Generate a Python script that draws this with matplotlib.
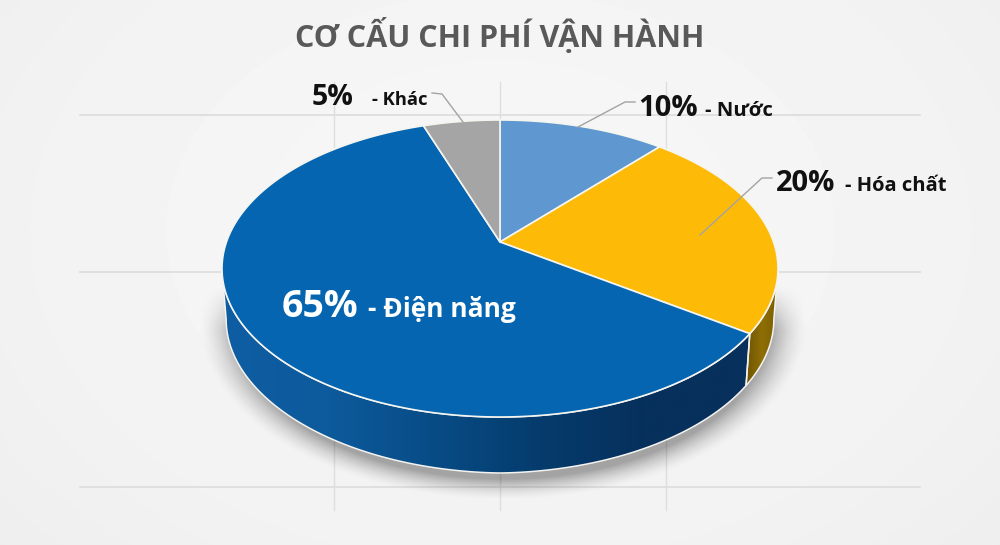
import numpy as np
import matplotlib
matplotlib.use("Agg")
import matplotlib.pyplot as plt
from matplotlib.patches import Polygon
from matplotlib.colors import LinearSegmentedColormap

# ---- data
title = "CƠ CẤU CHI PHÍ VẬN HÀNH"
categories = ["Nước", "Hóa chất", "Điện năng", "Khác"]
labelled_pct = [10, 20, 65, 5]
drawn_share = [11.5, 23.2, 60.0, 5.3]   # slice sizes as they appear in the picture
slice_colors = ["#5f98d0", "#fdbb08", "#0565b0", "#a5a5a5"]

# ---- geometry (pixels)
HUB = (500, 242)
UP, DOWN, WIDTH = 122.0, 175.0, 278.0
DEPTH = 56.0
c = (DOWN - UP) / (DOWN + UP)
A = UP * (1 + c)
D = WIDTH * np.sqrt(1 - c ** 2)


def rim(theta_deg, scale=1.0):
    t = np.radians(theta_deg)
    u, v = np.sin(t), np.cos(t)
    w = 1 + c * v
    return HUB[0] + scale * D * u / w, HUB[1] - scale * A * v / w


fig = plt.figure(figsize=(10, 5.45), dpi=100)
ax = fig.add_axes([0, 0, 1, 1])
ax.set_xlim(0, 1000)
ax.set_ylim(545, 0)
ax.axis("off")

# background
yy, xx = np.mgrid[0:545, 0:1000]
r = np.hypot((xx - 500) / 700, (yy - 230) / 500)
ax.imshow(0.965 - 0.035 * r ** 2, cmap="gray", vmin=0, vmax=1,
          extent=(0, 1000, 545, 0), zorder=0, aspect="auto")

# grid
for y in (115, 272, 487):
    ax.plot([80, 920], [y, y], color="#dcdcdc", lw=1.2, zorder=1)
for x in (334, 500, 666):
    ax.plot([x, x], [82, 510], color="#dedede", lw=1, zorder=1)

# shadow
ex = (xx - 503) / 288
ey = (yy - 322) / 168
dist = np.hypot(ex, ey)
alpha = np.clip((1.06 - dist) / 0.13, 0, 1) ** 1.6 * 0.33
alpha = alpha * np.clip((yy - 285) / 45, 0, 1)
shadow = np.zeros((545, 1000, 4))
shadow[..., 3] = alpha
ax.imshow(shadow, extent=(0, 1000, 545, 0), zorder=2, aspect="auto")

# walls
edges = np.concatenate([[0], np.cumsum(drawn_share)]) / np.sum(drawn_share) * 360
widest = np.degrees(np.arccos(-c))
amber_from, amber_to = widest, edges[2]
blue_from, blue_to = edges[2], 360 - widest


def wall(a0, a1):
    th = np.linspace(a0, a1, 160)
    x, y = rim(th)
    xb = HUB[0] + (x - HUB[0]) * 0.985
    yb = y + DEPTH - 5 * np.abs(np.sin(np.radians(th)))
    return np.column_stack([np.r_[x, xb[::-1]], np.r_[y, yb[::-1]]])


amber_cmap = LinearSegmentedColormap.from_list("a", ["#6d5503", "#8f6e05", "#7a5e04"])
blue_cmap = LinearSegmentedColormap.from_list(
    "b", ["#0f5da3", "#0d5a9c", "#084c86", "#053c6d", "#07305c", "#07305c"])
for (a0, a1, cmap) in [(amber_from, amber_to, amber_cmap), (blue_from, blue_to, blue_cmap)]:
    pts = wall(a0, a1)
    poly = Polygon(pts, closed=True, fc="none", ec="none", zorder=3)
    ax.add_patch(poly)
    grad = np.linspace(0, 1, 256)[None, :]
    im = ax.imshow(grad, cmap=cmap, vmin=0, vmax=1, aspect="auto", zorder=3,
                   extent=(pts[:, 0].min(), pts[:, 0].max(), pts[:, 1].max(), pts[:, 1].min()))
    im.set_clip_path(poly)
    ax.add_patch(Polygon(pts, closed=True, fc="none", ec="#f3f3f0", lw=1.1, zorder=4))

# top slices
for color, a0, a1 in zip(slice_colors, edges[:-1], edges[1:]):
    th = np.linspace(a0, a1, 200)
    x, y = rim(th)
    ax.fill(np.r_[HUB[0], x], np.r_[HUB[1], y], fc=color, ec="#f5f5f0", lw=1.2,
            joinstyle="round", zorder=5)

# leader lines
leader_color = "#a3a3a3"
leaders = {
    "Khác": ([463, 442, 432], [122, 94, 93]),
    "Nước": ([578, 625, 635], [127, 102, 102]),
    "Hóa chất": ([700, 762, 772], [235, 178, 178]),
}
for name, (lx, ly) in leaders.items():
    ax.plot(lx, ly, color=leader_color, lw=1, zorder=6)

# text
FONT = "Open Sans"
ax.text(500, 47, title, ha="center", va="baseline", family=FONT, fontweight="bold",
        fontsize=22, color="#595959", zorder=7)

positions = {
    "Khác": (312, 105, 372, "#111111", 20.5, 13.2),
    "Nước": (638, 116, 705, "#111111", 21, 14.6),
    "Hóa chất": (776, 191, 845, "#111111", 21, 14.5),
    "Điện năng": (282, 317, 368, "#ffffff", 27, 19),
}
for name, pct in zip(categories, labelled_pct):
    x0, base, x1, col, size, small = positions[name]
    ax.text(x0, base, f"{pct}%", ha="left", va="baseline", family=FONT, fontweight="bold",
            fontsize=size, color=col, zorder=7)
    ax.text(x1, base, f"- {name}", ha="left", va="baseline", family=FONT, fontweight="bold",
            fontsize=small, color=col, zorder=7)

fig.savefig("out.png", dpi=100)
